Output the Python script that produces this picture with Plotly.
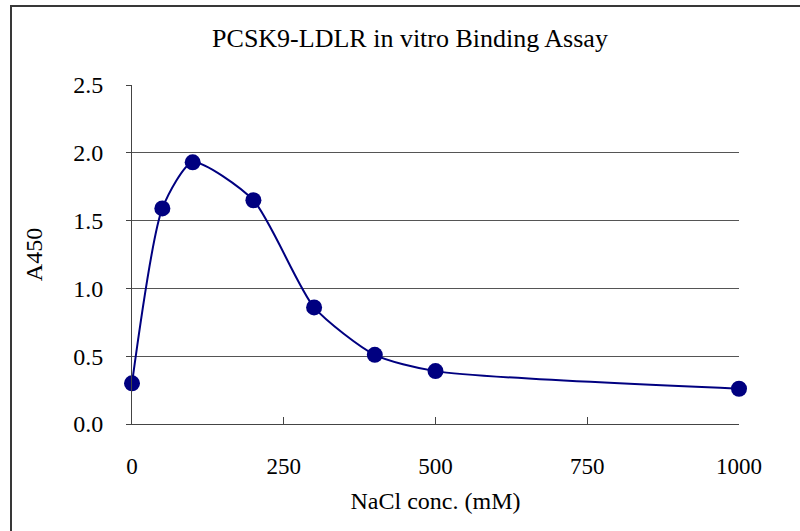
import plotly.graph_objects as go

nacl_mM = [0, 50, 100, 200, 300, 400, 500, 1000]
a450 = [0.30, 1.59, 1.93, 1.65, 0.86, 0.51, 0.39, 0.26]
x_ticks = [0, 250, 500, 750, 1000]
y_ticks = [0.0, 0.5, 1.0, 1.5, 2.0, 2.5]

FONT = "Liberation Serif, Times New Roman, serif"
L, R, T, B = 132, 61, 85, 107
W, H = 800, 531
pw, ph = W - L - R, H - T - B

fig = go.Figure()
fig.add_trace(go.Scatter(
    x=nacl_mM, y=a450, mode="lines+markers",
    line=dict(color="#000080", width=2, shape="spline", smoothing=0.65),
    marker=dict(color="#000080", size=16),
    cliponaxis=False, showlegend=False,
))

def px(x):
    return (x - L) / pw

def py(y):
    return (H - B - y) / ph

frame = dict(color="#383838", width=2)
for (xa, ya, xb, yb) in [(10, 6, 805, 6), (11, 5, 11, 540)]:
    fig.add_shape(type="line", xref="paper", yref="paper",
                  x0=px(xa), x1=px(xb), y0=py(ya), y1=py(yb), line=frame)

fig.update_layout(
    width=W, height=H,
    margin=dict(l=L, r=R, t=T, b=B),
    paper_bgcolor="white", plot_bgcolor="white",
    font=dict(family=FONT, color="black", size=23),
    title=dict(text="PCSK9-LDLR in vitro Binding Assay", x=410 / W, xanchor="center",
               xref="container", y=1 - 38 / H, yanchor="middle",
               font=dict(family=FONT, size=26, color="black")),
    xaxis=dict(range=[0, 1000], tickvals=x_ticks, ticktext=[str(v) for v in x_ticks],
               ticks="inside", ticklen=7, tickcolor="#444", tickwidth=1,
               showline=True, linecolor="#444", linewidth=1,
               showgrid=False, zeroline=False, ticklabelstandoff=21,
               tickfont=dict(size=23),
               title=dict(text="NaCl conc. (mM)", standoff=14, font=dict(size=24))),
    yaxis=dict(range=[0, 2.5], tickvals=y_ticks, ticktext=[f"{v:.1f}" for v in y_ticks],
               ticks="outside", ticklen=5, tickcolor="#444", tickwidth=1,
               showline=True, linecolor="#444", linewidth=1,
               showgrid=True, gridcolor="#555", gridwidth=1,
               zeroline=False, ticklabelstandoff=18,
               tickfont=dict(size=24),
               title=dict(text="A450", standoff=23, font=dict(size=24))),
)

fig.write_html("out.html", config={"displayModeBar": False},
               post_script="document.body.style.margin='0';")
